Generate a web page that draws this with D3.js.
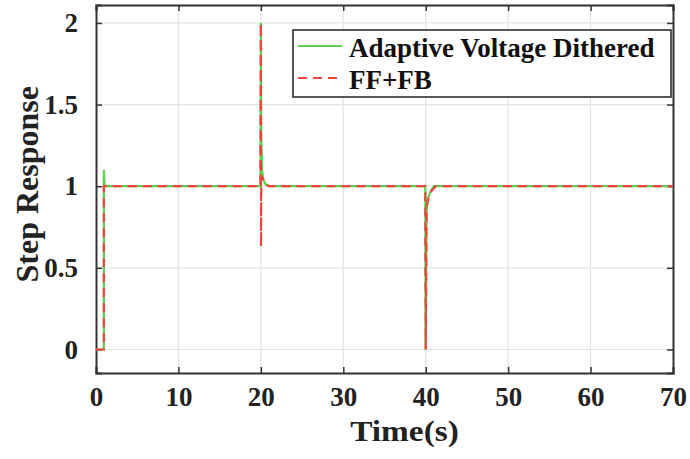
<!DOCTYPE html>
<html>
<head>
<meta charset="utf-8">
<script src="https://cdn.jsdelivr.net/npm/d3@7"></script>
<style>
  body { margin: 0; background: #fff; }
  svg { display: block; }
  .tick text { font-family: "Liberation Serif", "Times New Roman", serif; font-weight: bold; font-size: 27px; fill: #222; }
</style>
</head>
<body>
<svg id="chart" width="690" height="459"></svg>
<script>
// series data
var timeAVD = [0, 0.95, 0.95, 1.05, 1.3, 19.95, 20, 20.05, 20.15, 20.3, 20.6, 21, 39.95, 40, 40.1, 40.3, 40.6, 41, 70];
var stepAVD = [0, 0, 1.1, 1.0, 1, 1, 2, 1.3, 1.1, 1.04, 1.01, 1, 1, 0, 0.85, 0.93, 0.97, 1, 1];

var timeFF = [0, 0.95, 0.95, 19.95, 20, 20.02, 20.06, 20.5, 20.9, 21.5, 39.95, 40, 40.1, 40.3, 40.7, 41.2, 70];
var stepFF = [0, 0, 1, 1, 2, 0.63, 1.06, 1.03, 1.0, 1, 1, 0, 0.88, 0.92, 0.97, 1, 1];

var xTicks = [0, 10, 20, 30, 40, 50, 60, 70];
var yTicks = [0, 0.5, 1, 1.5, 2];
var seriesNames = ["Adaptive Voltage Dithered", "FF+FB"];

var svg = d3.select("#chart");
var pLeft = 96, pRight = 673, pTop = 5, pBottom = 373;

var x = d3.scaleLinear().domain([0, 70]).range([pLeft, pRight]);
var y = d3.scaleLinear().domain([-0.144, 2.11]).range([pBottom, pTop]);

// grid
var grid = svg.append("g");
grid.selectAll(".gx").data(xTicks.slice(1, -1)).enter().append("line")
  .attr("x1", d => x(d)).attr("x2", d => x(d)).attr("y1", pTop).attr("y2", pBottom)
  .attr("stroke", "#e3e3e3").attr("stroke-width", 1.2);
grid.selectAll(".gy").data(yTicks).enter().append("line")
  .attr("y1", d => y(d)).attr("y2", d => y(d)).attr("x1", pLeft).attr("x2", pRight)
  .attr("stroke", "#e3e3e3").attr("stroke-width", 1.2);

// axes
var xAxis = svg.append("g").attr("transform", "translate(0," + pBottom + ")")
  .call(d3.axisBottom(x).tickValues(xTicks).tickSize(-6).tickPadding(14).tickFormat(d3.format("d")));
var yAxis = svg.append("g").attr("transform", "translate(" + pLeft + ",0)")
  .call(d3.axisLeft(y).tickValues(yTicks).tickSize(-6).tickPadding(18).tickFormat(d => d));
svg.append("g").attr("transform", "translate(0," + pTop + ")")
  .call(d3.axisTop(x).tickValues(xTicks).tickSize(-6).tickFormat(""));
svg.append("g").attr("transform", "translate(" + pRight + ",0)")
  .call(d3.axisRight(y).tickValues(yTicks).tickSize(-6).tickFormat(""));
svg.selectAll(".domain").attr("stroke", "#333").attr("stroke-width", 2);
svg.selectAll(".tick line").attr("stroke", "#333").attr("stroke-width", 1.5);
xAxis.selectAll(".tick text").attr("dy", "0.72em");

// lines
var line = d3.line().x(d => x(d[0])).y(d => y(d[1]));
svg.append("path").datum(d3.zip(timeAVD, stepAVD)).attr("d", line)
  .attr("fill", "none").attr("stroke", "#5ccf4e").attr("stroke-width", 2.2);
svg.append("path").datum(d3.zip(timeFF, stepFF)).attr("d", line)
  .attr("fill", "none").attr("stroke", "#f2413f").attr("stroke-width", 2.2)
  .attr("stroke-dasharray", "9,6");

// axis titles
svg.append("text").attr("transform", "translate(" + ((pLeft + pRight) / 2 + 20) + ",441) scale(1.15,1)")
  .attr("text-anchor", "middle")
  .style("font-family", "Liberation Serif, serif").style("font-weight", "bold").style("font-size", "29px")
  .attr("fill", "#222").text("Time(s)");
svg.append("text").attr("transform", "translate(38," + (y(1) - 2) + ") rotate(-90)")
  .attr("text-anchor", "middle")
  .style("font-family", "Liberation Serif, serif").style("font-weight", "bold").style("font-size", "32px")
  .attr("fill", "#222").text("Step Response");

// legend
var lg = svg.append("g");
lg.append("rect").attr("x", 293).attr("y", 30).attr("width", 378).attr("height", 67)
  .attr("fill", "#fff").attr("stroke", "#222").attr("stroke-width", 1.5);
var legendColors = ["#5ccf4e", "#f2413f"];
var legendDash = [null, "9,6"];
seriesNames.forEach(function(name, i) {
  var yy = 46 + i * 32;
  lg.append("line").attr("x1", 298).attr("x2", 342).attr("y1", yy).attr("y2", yy)
    .attr("stroke", legendColors[i]).attr("stroke-width", 2.2)
    .attr("stroke-dasharray", legendDash[i]);
  lg.append("text").attr("x", 349).attr("y", yy + 11)
    .style("font-family", "Liberation Serif, serif").style("font-weight", "bold").style("font-size", "27px")
    .attr("fill", "#111").text(name);
});
</script>
</body>
</html>
